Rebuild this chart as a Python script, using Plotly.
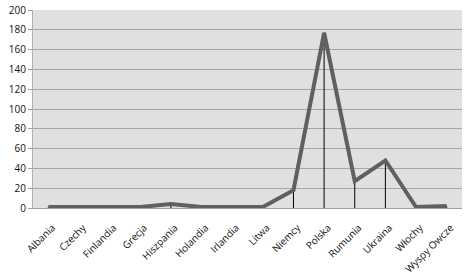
import plotly.graph_objects as go

categories = ["Albania", "Czechy", "Finlandia", "Grecja", "Hiszpania", "Holandia", "Irlandia",
              "Litwa", "Niemcy", "Polska", "Rumunia", "Ukraina", "Włochy", "Wyspy Owcze"]
values = [1, 1, 1, 1, 4, 1, 1, 1, 18, 177, 27, 48, 1, 2]
y_ticks = [0, 20, 40, 60, 80, 100, 120, 140, 160, 180, 200]

xs = list(range(len(categories)))

drop_x, drop_y = [], []
for x, v in zip(xs, values):
    drop_x += [x, x, None]
    drop_y += [0, v, None]

fig = go.Figure()
fig.add_trace(go.Scatter(x=drop_x, y=drop_y, mode="lines",
                         line=dict(color="black", width=1), hoverinfo="skip", showlegend=False))
fig.add_trace(go.Scatter(x=xs, y=values, mode="lines",
                         line=dict(color="#606060", width=4), showlegend=False))

fig.update_layout(
    width=472, height=274,
    margin=dict(l=33, r=10, t=10, b=66),
    paper_bgcolor="white",
    plot_bgcolor="#e0e0e0",
    font=dict(family="Open Sans, Liberation Sans, sans-serif", size=10, color="#111111"),
    showlegend=False,
)
fig.update_xaxes(
    range=[-0.5, len(categories) - 0.5], automargin=False,
    tickmode="array", tickvals=xs, ticktext=categories,
    tickangle=-45, showgrid=False, zeroline=False,
    showline=True, linecolor="#a0a0a0", linewidth=1,
    ticks="", ticklabelstandoff=9, ticklabelshift=4,
)
fig.update_yaxes(
    range=[0, 200], tickmode="array", tickvals=y_ticks, automargin=False,
    showgrid=True, gridcolor="#a6a6a6", gridwidth=1, zeroline=False,
    showline=True, linecolor="#b0b0b0", linewidth=1,
    ticks="outside", ticklen=4, tickcolor="#a0a0a0",
)

fig.write_html("out.html")
